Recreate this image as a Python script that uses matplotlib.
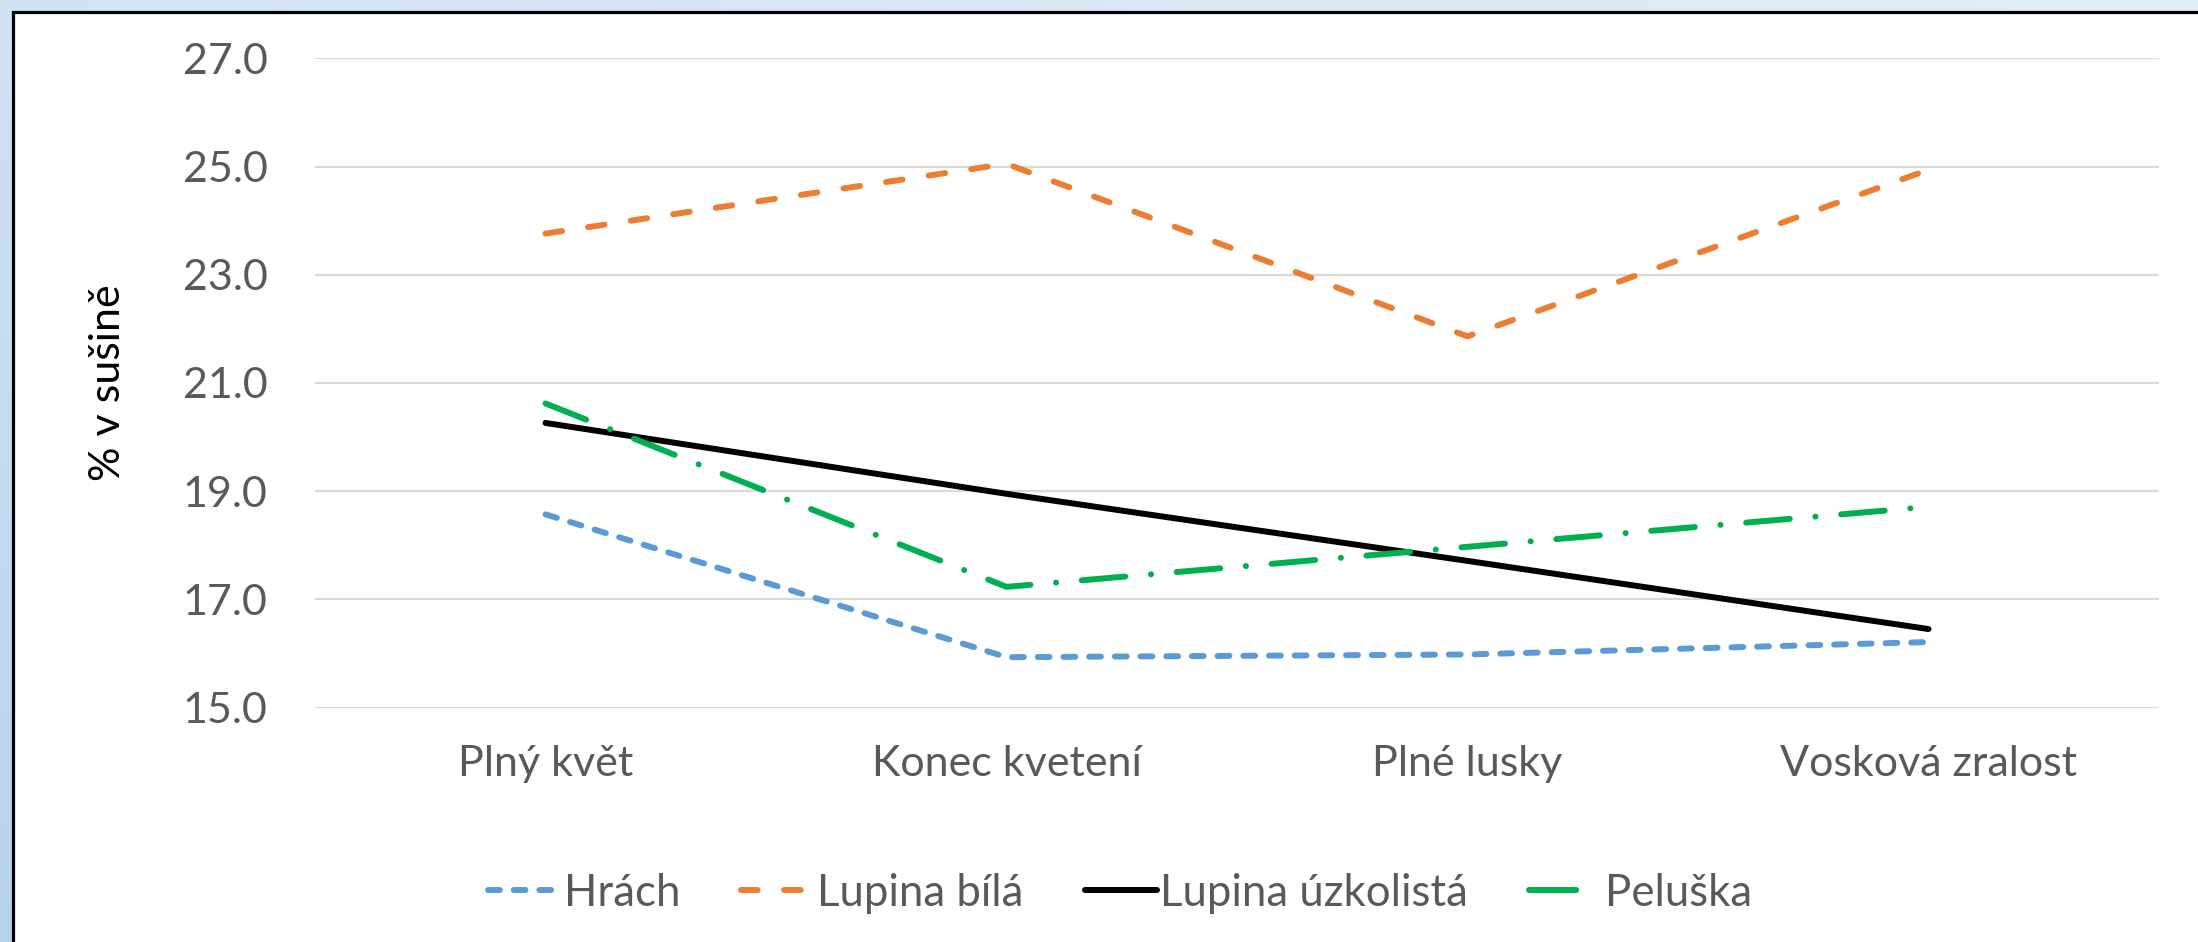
import numpy as np
import matplotlib
matplotlib.use("Agg")
import matplotlib.pyplot as plt
from matplotlib.patches import Rectangle

categories = ["Plný květ", "Konec kvetení", "Plné lusky", "Vosková zralost"]
series_names = ["Hrách", "Lupina bílá", "Lupina úzkolistá", "Peluška"]
hrach = [18.57, 15.93, 15.98, 16.21]
lupina_bila = [23.76, 25.05, 21.86, 24.94]
lupina_uzkolista = [20.26, 18.95, 17.71, 16.45]
peluska = [20.62, 17.23, 17.97, 18.71]
yticks = [15.0, 17.0, 19.0, 21.0, 23.0, 25.0, 27.0]

plt.rcParams['font.family'] = ['Lato', 'DejaVu Sans']
plt.rcParams['lines.scale_dashes'] = False
TXT = '#595959'
FS = 31

W, H = 2198, 942
fig = plt.figure(figsize=(W / 100, H / 100), dpi=100)

# background gradient
bg = fig.add_axes([0, 0, 1, 1], zorder=-10)
gx = np.linspace(0, 1, 200)[None, :]
gy = np.linspace(0, 1, 100)[:, None]
t = np.clip(0.6 * gy + 0.4 * (1 - gx), 0, 1)
c1 = np.array([0xE2, 0xED, 0xF8]) / 255
c2 = np.array([0xB8, 0xD3, 0xEE]) / 255
img = c1[None, None, :] * (1 - t[..., None]) + c2[None, None, :] * t[..., None]
bg.imshow(img, aspect='auto', extent=[0, 1, 0, 1], origin='upper')
bg.set_axis_off()

fig.patches.append(Rectangle((12.5 / W, -0.1), 1.2, 1.1 - 12 / H,
                             transform=fig.transFigure, facecolor='white',
                             edgecolor='black', linewidth=2.3, zorder=-5))

ax = fig.add_axes([315 / W, (H - 707.5) / H, (2159 - 315) / W, (707.5 - 58.3) / H])
ax.set_facecolor('none')
x = np.arange(len(categories))

lw = 4.3
ax.plot(x, hrach, color='#5B9BD5', lw=lw, dashes=(8.5, 10), dash_capstyle='round',
        solid_capstyle='round', label=series_names[0], zorder=3)
ax.plot(x, lupina_bila, color='#ED7D31', lw=lw, dashes=(12, 19), dash_capstyle='round',
        label=series_names[1], zorder=3)
ax.plot(x, lupina_uzkolista, color='black', lw=lw, solid_capstyle='round',
        label=series_names[2], zorder=3)
ax.plot(x, peluska, color='#00B050', lw=lw, dashes=(31.5, 18.5, 0.1, 18.5),
        dash_capstyle='round', label=series_names[3], zorder=3)

ax.set_xlim(-0.5, len(categories) - 0.5)
ax.set_ylim(15, 27)
ax.set_yticks(yticks)
ax.set_yticklabels([f"{v:.1f}" for v in yticks])
ax.set_xticks(x)
ax.set_xticklabels(categories)
ax.grid(axis='y', color='#D9D9D9', lw=1.6, zorder=0)
ax.set_axisbelow(True)
for s in ax.spines.values():
    s.set_visible(False)
ax.tick_params(axis='both', length=0, labelsize=FS, colors=TXT)
ax.tick_params(axis='y', pad=34)
ax.tick_params(axis='x', pad=27)
ax.set_ylabel("% v sušině", fontsize=FS, color='black', labelpad=40)

leg = fig.legend(loc='center', bbox_to_anchor=(1120 / W, (H - 893) / H), ncol=4,
                 frameon=False, fontsize=31.5, handlelength=1.65, handletextpad=0.08,
                 columnspacing=1.4, labelcolor=TXT)
leg.get_lines()[3].set_dashes((34, 60))

fig.savefig("out.png", dpi=100)
